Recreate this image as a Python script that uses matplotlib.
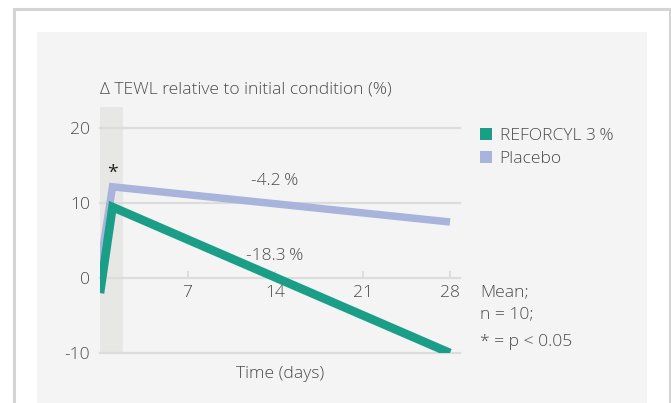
import matplotlib
matplotlib.use("Agg")
import matplotlib.pyplot as plt
from matplotlib.patches import Rectangle, Patch

# ---- data ----
days = [0, 1, 28]
reforcyl = [-2.0, 9.5, -10.0]
placebo = [1.5, 12.2, 7.5]
series_labels = ["REFORCYL 3\u2009%", "Placebo"]
xticks = [7, 14, 21, 28]
yticks = [20, 10, 0, -10]
change_labels = ["-4.2\u2009%", "-18.3\u2009%"]
ylabel = "\u0394 TEWL relative to initial condition (%)"
xlabel = "Time (days)"
notes = ["Mean;", "n = 10;", "* = p < 0.05"]

GREEN = "#1b9e88"
BLUE = "#a9b4dc"
TXT = "#4c4c4c"
GRID = "#dcdcdc"
FS = 12.6
FW = "light"

plt.rcParams["font.family"] = ["Open Sans", "DejaVu Sans"]

W, H = 671, 403
fig = plt.figure(figsize=(W / 100, H / 100), dpi=100)
fig.patch.set_facecolor("white")

def fx(px):
    return px / W

def fy(py):
    return 1 - py / H

# outer border and panel
fig.patches.append(Rectangle((fx(13.5), -0.1), fx(669.5) - fx(13.5), fy(9.5) + 0.1,
                             transform=fig.transFigure, facecolor="none",
                             edgecolor="#d4d4d4", lw=2.2, zorder=-2))
fig.patches.append(Rectangle((fx(37), -0.1), fx(647) - fx(37), fy(32) + 0.1,
                             transform=fig.transFigure, facecolor="#f4f4f4",
                             edgecolor="none", zorder=-1))

# axes: x 0..28.8 -> px 100..460 ; y -10..22.9 -> px 353..106.7
ax = fig.add_axes([fx(100), fy(353), fx(460) - fx(100), fy(106.7) - fy(353)])
ax.set_facecolor("none")
ax.set_xlim(0, 28.8)
ax.set_ylim(-10, 22.9)

for s in ax.spines.values():
    s.set_visible(False)

# shaded band (day 0-1.85)
ax.axvspan(0, 1.85, color="#e7e7e5", zorder=0.5, lw=0)

# grid lines
for yv in yticks:
    ax.axhline(yv, color=GRID, lw=1.6, zorder=1, clip_on=False)

# x-axis on zero line, ticks pointing up
ax.spines["bottom"].set_position(("data", 0))
ax.set_xticks(xticks)
ax.set_xticklabels([str(t) for t in xticks], fontweight=FW)
ax.tick_params(axis="x", direction="in", length=5, width=1.3, color=GRID,
               labelsize=FS, labelcolor=TXT, pad=5)
ax.set_yticks(yticks)
ax.set_yticklabels([str(t) for t in yticks], fontweight=FW)
ax.tick_params(axis="y", length=0, labelsize=FS, labelcolor=TXT, pad=7)

# lines
ax.plot(days, placebo, color=BLUE, lw=5.4, solid_joinstyle="miter",
        solid_capstyle="butt", zorder=3, clip_on=True)
ax.plot(days, reforcyl, color=GREEN, lw=6.2, solid_joinstyle="miter",
        solid_capstyle="butt", zorder=4, clip_on=True)

# annotations
ax.text(14, 13.0, change_labels[0], ha="center", va="center", fontsize=FS,
        color=TXT, fontweight=FW)
ax.text(14, 3.0, change_labels[1], ha="center", va="center", fontsize=FS,
        color=TXT, fontweight=FW)
ax.text(1.0, 14.0, "*", ha="center", va="center", fontsize=14, color="#222222")

# titles
fig.text(fx(100), fy(90), ylabel, ha="left", va="center", fontsize=FS,
         color=TXT, fontweight=FW)
fig.text(fx(280), fy(374), xlabel, ha="center", va="center", fontsize=FS,
         color=TXT, fontweight=FW)

# legend
handles = [Patch(facecolor=GREEN, edgecolor="none"), Patch(facecolor=BLUE, edgecolor="none")]
fig.legend(handles, series_labels, loc="upper left",
           bbox_to_anchor=(fx(480), fy(128)), bbox_transform=fig.transFigure,
           frameon=False, prop={"size": FS, "weight": FW}, handlelength=0.7,
           handleheight=0.7, handletextpad=0.42, labelspacing=0.38,
           borderaxespad=0, borderpad=0, labelcolor=TXT)

# notes
fig.text(fx(480), fy(292), notes[0], ha="left", va="center", fontsize=FS,
         color=TXT, fontweight=FW)
fig.text(fx(480), fy(314), notes[1], ha="left", va="center", fontsize=FS,
         color=TXT, fontweight=FW)
fig.text(fx(480), fy(342), notes[2], ha="left", va="center", fontsize=FS,
         color=TXT, fontweight=FW)

fig.savefig("out.png", dpi=100)
